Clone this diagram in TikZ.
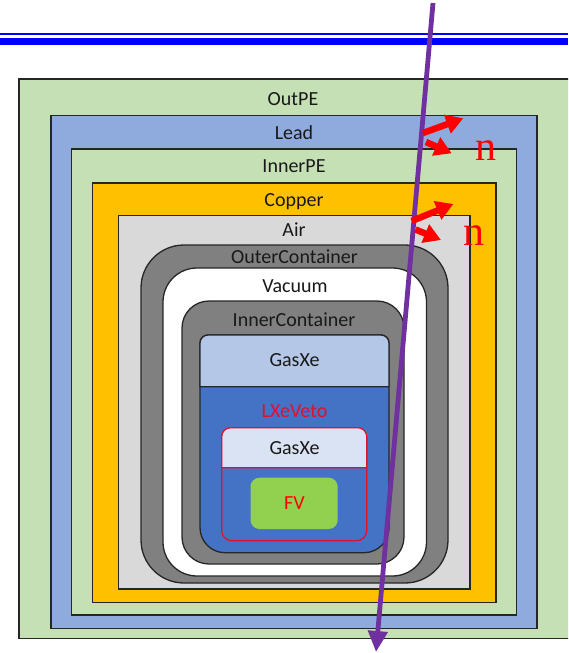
\documentclass[tikz,border=0pt]{standalone}
\usepackage{fontspec}
\setmainfont{Carlito}
\newfontfamily\nfont{Liberation Serif}
\usepackage{tikz}
\usetikzlibrary{arrows.meta}
\usepackage{xcolor}
\definecolor{pegreen}{HTML}{C5E0B4}
\definecolor{leadblue}{HTML}{8FAADC}
\definecolor{copperc}{HTML}{FFC000}
\definecolor{airgray}{HTML}{D9D9D9}
\definecolor{contgray}{HTML}{808080}
\definecolor{gasblue}{HTML}{B4C7E7}
\definecolor{lxeblue}{HTML}{4472C4}
\definecolor{gaslight}{HTML}{DAE3F3}
\definecolor{fvgreen}{HTML}{92D050}
\definecolor{trackc}{HTML}{7030A0}
\definecolor{edgec}{HTML}{262626}
\definecolor{tpcred}{HTML}{E0102F}
\definecolor{hdrblue}{HTML}{0000FF}

\begin{document}
\begin{tikzpicture}[x=1pt,y=-1pt,
    layer/.style={draw=edgec,line width=1.3pt},
    tpc/.style={draw=tpcred,line width=1.2pt},
    lbl/.style={font=\fontsize{20}{22}\selectfont,text=black!90,anchor=base,inner sep=0pt},
    nlbl/.style={font=\nfont\fontsize{42}{44}\selectfont,text=red,inner sep=0pt},
    neutron/.style={red,line width=6.5pt,-{Triangle[length=17pt,width=19pt]}},
    track/.style={trackc,line width=4.8pt,-{Triangle[length=21pt,width=19pt]}}]
  \useasboundingbox (0,0) rectangle (568,653);
  \clip (0,0) rectangle (568,653);
  % header rule
  \fill[hdrblue] (0,33.3) rectangle (568,35.3);
  \fill[hdrblue] (0,37.7) rectangle (568,45);
  % shielding
  \draw[layer,fill=pegreen] (19,79) rectangle (580,638.5);
  \draw[layer,fill=leadblue] (51,115.5) rectangle (537,628.5);
  \draw[layer,fill=pegreen] (71.5,149) rectangle (516.5,615);
  \draw[layer,fill=copperc] (92.3,183) rectangle (496,602.5);
  \draw[layer,fill=airgray] (118.5,215.5) rectangle (470,589);
  % cryostat
  \draw[layer,fill=contgray,rounded corners=43pt] (141,245) rectangle (448,583);
  \draw[layer,fill=white,rounded corners=34pt] (163,268) rectangle (426.5,576);
  \draw[layer,fill=contgray,rounded corners=27pt] (182,301) rectangle (404,564);
  % xenon volumes
  \draw[layer,fill=lxeblue] (294,335) [rounded corners=8pt] -- (389,335) -- (389,450)
    [rounded corners=25pt] -- (389,552.7) -- (200,552.7) -- (200,450)
    [rounded corners=8pt] -- (200,335) -- cycle;
  \draw[layer,fill=gasblue] (200,360) [rounded corners=8pt] -- (200,335) -- (389,335) -- (389,360)
    [sharp corners] -- (389,386.7) -- (200,386.7) -- cycle;
  \draw[tpc,fill=lxeblue,rounded corners=10pt] (221.7,427.7) rectangle (366.7,540.7);
  \draw[tpc,fill=gaslight] (221.7,450) [rounded corners=9pt] -- (221.7,427.7) -- (366.7,427.7) -- (366.7,450)
    [sharp corners] -- (366.7,467.7) -- (221.7,467.7) -- cycle;
  \fill[fvgreen,rounded corners=9pt] (250.5,477.7) rectangle (337.7,529);
  % labels
  \node[lbl](outpe) at (293,105.5){OutPE};
  \node[lbl](lead) at (294,139.5){Lead};
  \node[lbl](innerpe) at (294,172.5){InnerPE};
  \node[lbl](copper) at (294,206){Copper};
  \node[lbl](air) at (294,236.5){Air};
  \node[lbl](outercont) at (294.5,263.3){OuterContainer};
  \node[lbl](vacuum) at (295,292){Vacuum};
  \node[lbl](innercont) at (294,326.7){InnerContainer};
  \node[lbl](gasxe) at (294.5,366){GasXe};
  \node[lbl,text=tpcred](lxeveto) at (294.5,417.3){LXeVeto};
  \node[lbl](gasxein) at (294.5,454){GasXe};
  \node[lbl,text=red](fv) at (294.5,509){FV};
  % muon track
  \coordinate (trkin) at (433,3);
  \coordinate (trkout) at (376,652);
  \draw[track](trkin)--(trkout);
  % neutrons
  \coordinate (na1) at (423,133);
  \coordinate (na2) at (463.3,118.3);
  \coordinate (nb1) at (426,142);
  \coordinate (nb2) at (451.7,153.3);
  \coordinate (nc1) at (411.7,221);
  \coordinate (nc2) at (453.3,204);
  \coordinate (nd1) at (415.5,229.5);
  \coordinate (nd2) at (441,240);
  \draw[neutron](na1)--(na2);
  \draw[neutron](nb1)--(nb2);
  \draw[neutron](nc1)--(nc2);
  \draw[neutron](nd1)--(nd2);
  \node[nlbl](nup) at (486,150.5){n};
  \node[nlbl](ndown) at (473.5,236){n};
\end{tikzpicture}
\end{document}
